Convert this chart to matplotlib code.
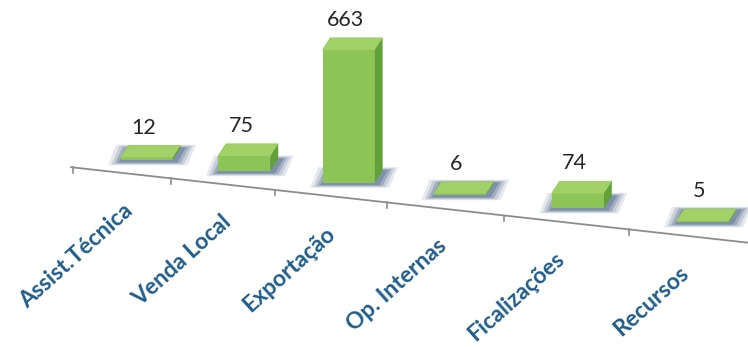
import matplotlib
matplotlib.use("Agg")
import matplotlib.pyplot as plt
from matplotlib.patches import Polygon
import numpy as np

categories = ["Assist.Técnica", "Venda Local", "Exportação", "Op. Internas", "Ficalizações", "Recursos"]
values = [12, 75, 663, 6, 74, 5]

fig = plt.figure(figsize=(7.48, 3.47), dpi=100)
ax = fig.add_axes([0, 0, 1, 1])
ax.set_xlim(-1.349, 5.378)
ax.set_ylim(-935, 800)
ax.axis("off")

# perspective spacing of the category slots
def persp(i):
    i = np.asarray(i, dtype=float)
    return 0.8475 * i + 0.0305 * i ** 2

slope = -62.0        # floor drop per unit of x (value units)
axis_off = -80.0     # axis line below floor
width = 0.47
ddx, ddy = 0.07, 60  # depth of the 3D box

front_c = "#8cc456"
top_c = "#a2d168"
side_c = "#62a03a"
shadow_c = "#4d6488"

def base(xv):
    return slope * xv

pos = persp(np.arange(len(values)))
for i, v in enumerate(values):
    cx = pos[i] - 0.03
    x0, x1 = cx - width / 2, cx + width / 2
    b = base(pos[i])
    # fuzzy shadow on floor
    for k, a in [(0.11, 0.14), (0.08, 0.2), (0.05, 0.3), (0.02, 0.4)]:
        sh = Polygon([(x0 - k, b - 10 - k * 150), (x1 + k + 0.02, b - 10 - k * 150),
                      (x1 + ddx + k + 0.03, b + ddy + k * 150), (x0 + ddx - k, b + ddy + k * 150)],
                     closed=True, facecolor=shadow_c, edgecolor="none", alpha=a, zorder=1)
        ax.add_patch(sh)
    # front face
    ax.bar(cx, v, width=width, bottom=b, color=front_c, edgecolor="none", zorder=3)
    top = b + v
    # top face
    ax.add_patch(Polygon([(x0, top), (x1, top), (x1 + ddx, top + ddy), (x0 + ddx, top + ddy)],
                         closed=True, facecolor=top_c, edgecolor="#98ca5e", lw=0.6, zorder=4))
    # side face
    ax.add_patch(Polygon([(x1, b), (x1 + ddx, b + ddy), (x1 + ddx, top + ddy), (x1, top)],
                         closed=True, facecolor=side_c, edgecolor="none", zorder=4))
    # value label
    ax.text(pos[i] - 0.06, top + ddy + 40, str(v), ha="center", va="bottom",
            fontsize=15.5, family=["Lato", "DejaVu Sans"], color="#262626", zorder=5)
    # category label
    ax.text(pos[i] - 0.18, b - 240, categories[i], ha="right", va="center",
            rotation=42, rotation_mode="anchor", fontsize=16.5, fontweight="bold",
            family=["Lato", "DejaVu Sans"], color="#215d8b", zorder=5)

# slanted category axis
xa = np.array([-0.71, 5.378])
ax.plot(xa, base(xa) + axis_off, color="#8c8c8c", lw=1.3, zorder=2)
for t in persp(np.arange(len(values))) - 0.69:
    ty = base(t) + axis_off
    ax.plot([t, t], [ty, ty - 26], color="#8c8c8c", lw=1.2, zorder=2)

fig.savefig("out.png", dpi=100)
